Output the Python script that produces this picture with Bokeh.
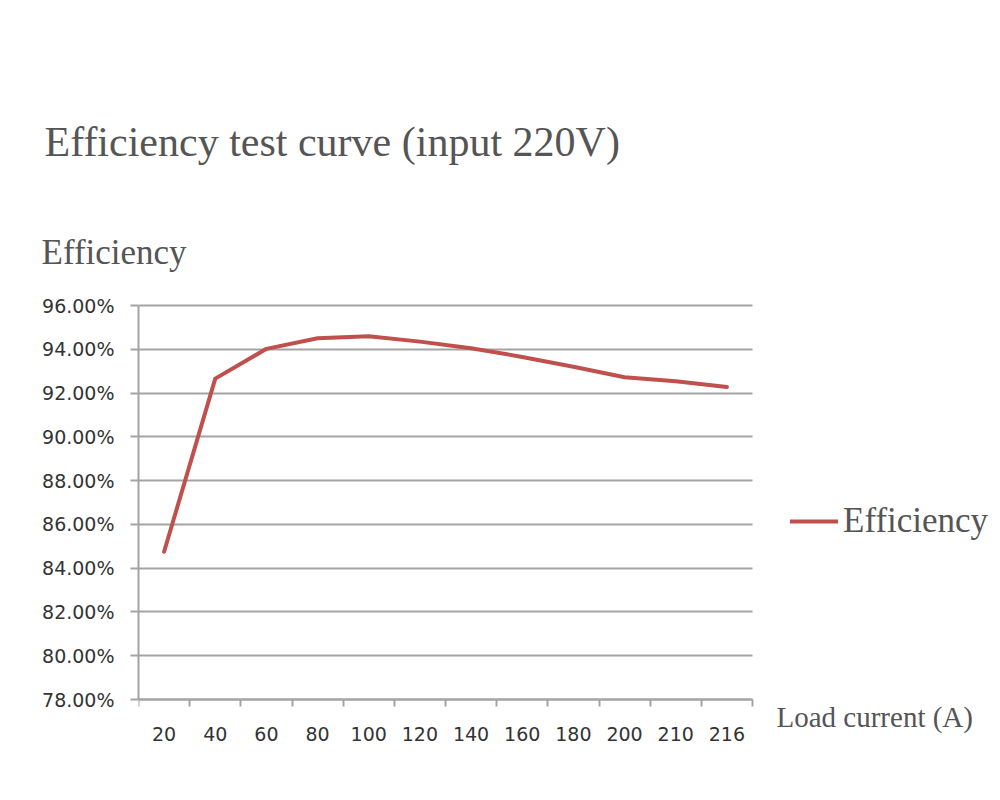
from bokeh.plotting import figure
from bokeh.models import (Range1d, FixedTicker, Label, Legend, LegendItem, Title,
                          PrintfTickFormatter, ColumnDataSource, Grid)
from bokeh.embed import file_html
from bokeh.resources import INLINE
import numpy as np

# ---- data ----
load_current = ["20", "40", "60", "80", "100", "120", "140", "160", "180", "200", "210", "216"]
efficiency = [84.75, 92.66, 94.02, 94.50, 94.60, 94.35, 94.05, 93.65, 93.20, 92.72, 92.54, 92.28]
y_ticks = [78, 80, 82, 84, 86, 88, 90, 92, 94, 96]

title_text = "Efficiency test curve (input 220V)"
y_label_text = "Efficiency"
x_label_text = "Load current (A)"
series_name = "Efficiency"

LINE_COLOR = "#C0504D"
GRID_COLOR = "#a3a3a3"
TEXT_GRAY = "#555555"
SERIF = "Liberation Serif"
SANS = "DejaVu Sans"

n = len(load_current)
xpos = np.arange(n) + 0.5
ymin, ymax = y_ticks[0], y_ticks[-1]

# layout geometry (pixels): plotting box 138..752 x 305..699
W, H = 996, 790
BOX_L, BOX_R, BOX_T, BOX_B = 138, 752, 305, 699
FRAME_T = BOX_T - 2
ppx = (BOX_R - BOX_L) / n
ppy = (BOX_B - BOX_T) / (ymax - ymin)
x_end = (W - BOX_L) / ppx
y_start = ymin - (H - BOX_B) / ppy
y_end = ymax + (BOX_T - FRAME_T) / ppy

p = figure(width=W, height=H, output_backend="svg", toolbar_location=None,
           x_range=Range1d(0, x_end), y_range=Range1d(y_start, y_end),
           min_border_left=BOX_L, min_border_right=0,
           min_border_top=FRAME_T, min_border_bottom=0)
p.outline_line_color = None
p.background_fill_color = "white"
p.border_fill_color = "white"

src = ColumnDataSource(dict(x=xpos, y=efficiency))
r = p.line("x", "y", source=src, line_color=LINE_COLOR, line_width=4,
           line_join="round", line_cap="round")

# y axis
p.yaxis.ticker = FixedTicker(ticks=y_ticks)
p.yaxis.formatter = PrintfTickFormatter(format="%.2f%%")
p.yaxis.bounds = (ymin, ymax)
p.yaxis.axis_line_color = GRID_COLOR
p.yaxis.axis_line_width = 2
p.yaxis.major_tick_line_color = GRID_COLOR
p.yaxis.major_tick_line_width = 2
p.yaxis.major_tick_out = 8
p.yaxis.major_tick_in = 0
p.yaxis.minor_tick_line_color = None
p.yaxis.major_label_text_font = SANS
p.yaxis.major_label_text_font_size = "19px"
p.yaxis.major_label_text_color = "#333333"
p.yaxis.major_label_standoff = 16

# x axis at y = 78: labels centred in bands, ticks at band boundaries
p.xaxis.fixed_location = ymin
p.xaxis.bounds = (0, n)
p.xaxis.ticker = FixedTicker(ticks=list(xpos), minor_ticks=list(range(n + 1)))
p.xaxis.major_label_overrides = {float(x): lab for x, lab in zip(xpos, load_current)}
p.xaxis.axis_line_color = GRID_COLOR
p.xaxis.axis_line_width = 2
p.xaxis.major_tick_line_color = None
p.xaxis.major_tick_out = 0
p.xaxis.major_tick_in = 0
p.xaxis.minor_tick_line_color = GRID_COLOR
p.xaxis.minor_tick_line_width = 2
p.xaxis.minor_tick_out = 7
p.xaxis.minor_tick_in = 0
p.xaxis.major_label_text_font = SANS
p.xaxis.major_label_text_font_size = "19px"
p.xaxis.major_label_text_color = "#333333"
p.xaxis.major_label_standoff = 20

# horizontal gridlines limited to the category span
p.xgrid.grid_line_color = None
if "cross_bounds" in Grid.properties():
    p.ygrid.ticker = FixedTicker(ticks=y_ticks)
    p.ygrid.bounds = (ymin, ymax)
    p.ygrid.cross_bounds = (0, n)
    p.ygrid.grid_line_color = GRID_COLOR
    p.ygrid.grid_line_width = 2
else:
    p.ygrid.grid_line_color = None
    p.segment(x0=[0] * len(y_ticks), x1=[n] * len(y_ticks), y0=y_ticks, y1=y_ticks,
              line_color=GRID_COLOR, line_width=2, level="underlay")

# titles in the "above" panel (first added sits nearest the frame)
p.add_layout(Title(text=y_label_text, align="left", offset=-97, standoff=64,
                   text_font=SERIF, text_font_size="35px", text_color=TEXT_GRAY,
                   text_font_style="normal"), "above")
p.add_layout(Title(text=title_text, align="left", offset=-94, standoff=68,
                   text_font=SERIF, text_font_size="42px", text_color=TEXT_GRAY,
                   text_font_style="normal"), "above")

# x-axis caption right of the axis end (data units)
p.add_layout(Label(x=n + 24 / ppx, y=ymin - 17 / ppy, text=x_label_text,
                   text_font=SERIF, text_font_size="29px", text_color=TEXT_GRAY,
                   text_baseline="alphabetic", text_align="left"))

legend = Legend(items=[LegendItem(label=series_name, renderers=[r])],
                location=(790 - BOX_L, H - 541), border_line_color=None,
                background_fill_alpha=0, padding=0, margin=0,
                glyph_width=48, glyph_height=40, label_standoff=5,
                label_text_font=SERIF, label_text_font_size="35px",
                label_text_color=TEXT_GRAY)
p.add_layout(legend, "center")

open("out.html", "w").write(file_html(p, INLINE))
